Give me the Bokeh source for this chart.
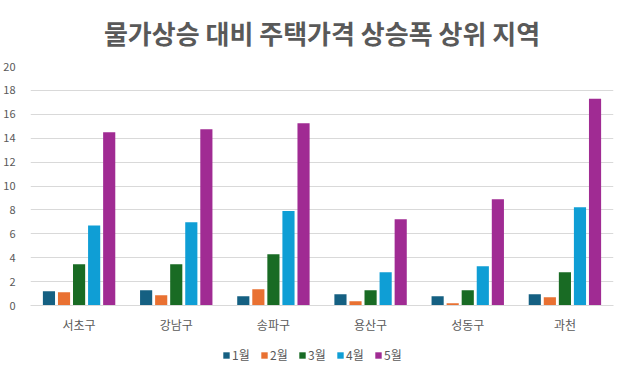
from bokeh.plotting import figure
from bokeh.models import FactorRange, Legend, LegendItem, SingleIntervalTicker, Range1d
from bokeh.layouts import column
from bokeh.transform import dodge
from bokeh.embed import file_html
from bokeh.resources import INLINE

regions = ["서초구", "강남구", "송파구", "용산구", "성동구", "과천"]
months = ["1월", "2월", "3월", "4월", "5월"]
m1 = [1.2, 1.28, 0.78, 0.95, 0.78, 0.95]
m2 = [1.1, 0.86, 1.36, 0.36, 0.19, 0.7]
m3 = [3.45, 3.45, 4.29, 1.28, 1.28, 2.78]
m4 = [6.7, 6.97, 7.9, 2.78, 3.28, 8.23]
m5 = [14.5, 14.75, 15.25, 7.22, 8.9, 17.3]
series = [m1, m2, m3, m4, m5]
colors = ["#156082", "#E97132", "#196B24", "#0F9ED5", "#A02B93"]

FONT = "Noto Sans CJK KR"
GRAY = "#595959"

p = figure(x_range=FactorRange(*regions), y_range=Range1d(0, 20),
           frame_width=583, frame_height=239, output_backend="svg", toolbar_location=None,
           min_border_left=24, min_border_right=6, min_border_top=0, min_border_bottom=30)

p.title.text = "물가상승 대비 주택가격 상승폭 상위 지역"
p.title.text_font = FONT
p.title.text_font_size = "26px"
p.title.text_font_style = "bold"
p.title.text_color = GRAY
p.title.align = "center"
p.title.vertical_align = "top"
p.title.standoff = 27

data = {"x": regions}
for i, s in enumerate(series):
    data[f"m{i}"] = s

offsets = [-0.31, -0.155, 0.0, 0.155, 0.31]
for i, (m, c) in enumerate(zip(months, colors)):
    p.vbar(x=dodge("x", offsets[i], range=p.x_range), top=f"m{i}", width=0.125,
           source=data, color=c, line_color=None)

p.yaxis.ticker = SingleIntervalTicker(interval=2)
p.yaxis.axis_line_color = None
p.yaxis.major_tick_line_color = None
p.yaxis.minor_tick_line_color = None
p.yaxis.major_label_text_font = FONT
p.yaxis.major_label_text_font_size = "11px"
p.yaxis.major_label_text_color = GRAY
p.yaxis.major_label_standoff = 9

p.xaxis.axis_line_color = "#d9d9d9"
p.xaxis.major_tick_line_color = None
p.xaxis.minor_tick_line_color = None
p.xaxis.major_label_text_font = FONT
p.xaxis.major_label_text_font_size = "12px"
p.xaxis.major_label_text_color = GRAY
p.xaxis.major_label_standoff = 4

p.xgrid.grid_line_color = None
p.ygrid.grid_line_color = "#d9d9d9"
p.outline_line_color = None
p.x_range.range_padding = 0.0

# legend strip below the chart
lg = figure(width=613, height=30, output_backend="svg", toolbar_location=None,
            x_range=Range1d(0, 1), y_range=Range1d(0, 1),
            x_axis_location=None, y_axis_location=None,
            min_border=0)
lg.grid.visible = False
lg.outline_line_color = None
items = []
for m, c in zip(months, colors):
    r = lg.rect(x=[5], y=[5], width=1, height=1, color=c, line_color=None)
    items.append(LegendItem(label=m, renderers=[r]))
legend = Legend(items=items, orientation="horizontal", location=(192, 2),
                label_text_font=FONT, label_text_font_size="12px", label_text_color=GRAY,
                glyph_width=8, glyph_height=8, spacing=8, label_standoff=2, label_height=16,
                border_line_color=None, background_fill_alpha=0, padding=0, margin=0)
lg.add_layout(legend, "center")

layout = column(p, lg, spacing=0)
open("out.html", "w").write(file_html(layout, INLINE))
